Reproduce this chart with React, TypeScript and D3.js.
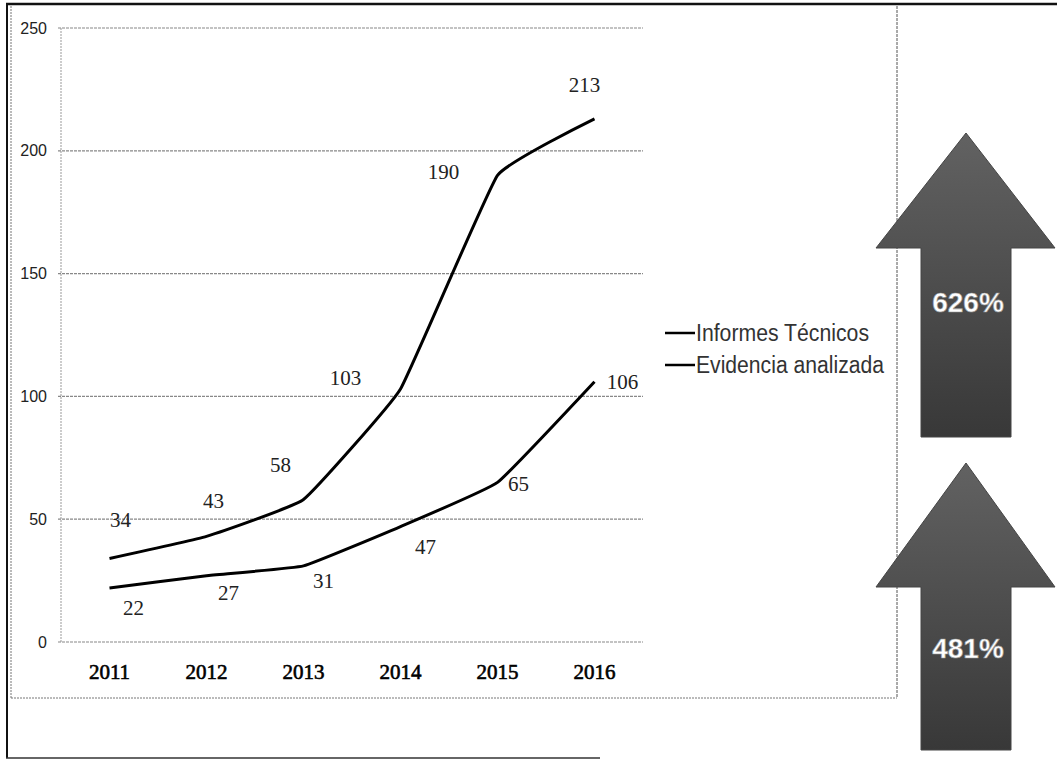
import React from 'react'
import * as d3 from 'd3'

// chart values
const years = ['2011', '2012', '2013', '2014', '2015', '2016']
const informes = [34, 43, 58, 103, 190, 213]
const evidencia = [22, 27, 31, 47, 65, 106]
const yTicks = [0, 50, 100, 150, 200, 250]
const seriesNames = ['Informes Técnicos', 'Evidencia analizada']
const growthLabels = ['626%', '481%']

// where each value label sits relative to its point (label centre)
const informesLabelOffset = [
  [11, -39],
  [7, -36],
  [-23, -35],
  [-55, -11],
  [-54, -4],
  [-10, -34]
]
const evidenciaLabelOffset = [
  [24, 20],
  [22, 17],
  [20, 15],
  [25, 20],
  [21, 1],
  [28, 0]
]
// squeezed legend text widths (the original face is very condensed)
const legendWidths = [173, 188]

const width = 1057
const height = 761
const margin = { top: 28, right: 643, bottom: 642, left: 61 }

const serif = '"Liberation Serif", "DejaVu Serif", serif'
const sans = '"Liberation Sans", Arial, sans-serif'

// arrow shapes on the right
const arrows = [
  { tip: 133, base: 248, bottom: 437, label: 302 },
  { tip: 463, base: 587, bottom: 750, label: 648 }
]
const arrowX = { headLeft: 876, headRight: 1055, shaftLeft: 921, shaftRight: 1011, mid: 966 }

const App: React.FC = () => {
  const x = d3
    .scaleBand<string>()
    .domain(years)
    .range([margin.left, margin.right])

  const y = d3
    .scaleLinear()
    .domain([0, 250])
    .range([margin.bottom, margin.top])

  const cx = (d: string) => (x(d) ?? 0) + x.bandwidth() / 2

  const line = d3
    .line<number>()
    .x((d, i) => cx(years[i]))
    .y((d) => y(d))
    .curve(d3.curveCardinal.tension(0.7))

  const series = [
    { values: informes, offsets: informesLabelOffset },
    { values: evidencia, offsets: evidenciaLabelOffset }
  ]

  const arrowPath = (a: { tip: number; base: number; bottom: number }) =>
    `M${arrowX.mid},${a.tip} L${arrowX.headRight},${a.base} L${arrowX.shaftRight},${a.base} ` +
    `L${arrowX.shaftRight},${a.bottom} L${arrowX.shaftLeft},${a.bottom} L${arrowX.shaftLeft},${a.base} ` +
    `L${arrowX.headLeft},${a.base} Z`

  return (
    <svg
      width={width}
      height={height}
      style={{ position: 'fixed', left: 0, top: 0, background: '#fff' }}
    >
      <defs>
        <linearGradient id="arrowFill" x1="0" y1="0" x2="0" y2="1">
          <stop offset="0%" stopColor="#626262" />
          <stop offset="100%" stopColor="#383838" />
        </linearGradient>
      </defs>

      {/* frame */}
      <line x1={6} y1={4} x2={width} y2={4} stroke="#111" strokeWidth={2.5} />
      <line x1={7} y1={3} x2={7} y2={758} stroke="#111" strokeWidth={2} />
      <line x1={6} y1={758} x2={600} y2={758} stroke="#333" strokeWidth={1.5} />
      <line x1={11} y1={6} x2={11} y2={698} stroke="#777" strokeDasharray="2,1" />
      <line x1={11} y1={698} x2={897} y2={698} stroke="#777" strokeDasharray="2,1" />
      <line x1={897} y1={6} x2={897} y2={698} stroke="#555" strokeDasharray="3,1" />

      {/* grid */}
      {yTicks.map((t) => (
        <g key={t}>
          <line
            x1={margin.left - 3}
            x2={margin.right}
            y1={y(t)}
            y2={y(t)}
            stroke="#888"
            strokeWidth={1.2}
            strokeDasharray="3,1"
          />
          <text
            x={47}
            y={y(t)}
            dy="0.35em"
            textAnchor="end"
            fontFamily={sans}
            fontSize={16}
            fill="#222"
          >
            {t}
          </text>
        </g>
      ))}
      <line x1={margin.left} x2={margin.left} y1={y(250)} y2={y(0)} stroke="#999" strokeDasharray="2,1" />

      {years.map((yr) => (
        <text
          key={yr}
          x={cx(yr)}
          y={672}
          dy="0.35em"
          textAnchor="middle"
          fontFamily={serif}
          fontSize={21}
          fill="#000"
          stroke="#000"
          strokeWidth={0.6}
        >
          {yr}
        </text>
      ))}

      {/* lines */}
      {series.map((s, si) => (
        <g key={si}>
          <path d={line(s.values) ?? ''} fill="none" stroke="#000" strokeWidth={3} />
          {s.values.map((v, i) => (
            <text
              key={i}
              x={cx(years[i]) + s.offsets[i][0]}
              y={y(v) + s.offsets[i][1]}
              dy="0.35em"
              textAnchor="middle"
              fontFamily={serif}
              fontSize={21}
              fill="#222"
            >
              {v}
            </text>
          ))}
        </g>
      ))}

      {/* legend */}
      {seriesNames.map((name, i) => (
        <g key={name} transform={`translate(665, ${333 + i * 32})`}>
          <line x1={0} x2={30} y1={0} y2={0} stroke="#000" strokeWidth={2.5} />
          <text
            x={31}
            y={0}
            dy="0.35em"
            fontFamily={sans}
            fontSize={23}
            fill="#333"
            textLength={legendWidths[i]}
            lengthAdjust="spacingAndGlyphs"
          >
            {name}
          </text>
        </g>
      ))}

      {/* growth arrows */}
      {arrows.map((a, i) => (
        <g key={i}>
          <path d={arrowPath(a)} fill="url(#arrowFill)" stroke="#444" strokeWidth={1} />
          <text
            x={arrowX.mid + 2}
            y={a.label}
            dy="0.35em"
            textAnchor="middle"
            fontFamily={sans}
            fontSize={28}
            fontWeight="bold"
            fill="#fff"
            stroke="#999"
            strokeWidth={0.6}
          >
            {growthLabels[i]}
          </text>
        </g>
      ))}
    </svg>
  )
}

export default App
